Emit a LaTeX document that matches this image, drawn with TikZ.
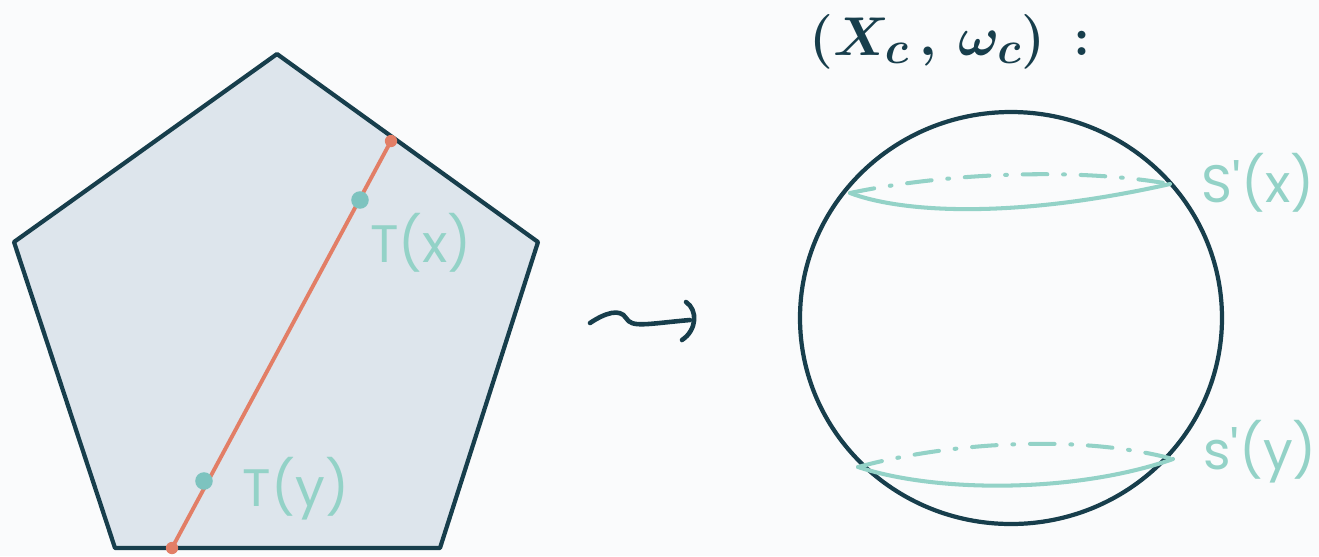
\documentclass[tikz,border=0pt]{standalone}
\usepackage{fontspec}
\setmainfont{Poppins}
\usetikzlibrary{arrows.meta, positioning}

\definecolor{ink}{HTML}{173E4C}
\definecolor{paper}{HTML}{DDE5EC}
\definecolor{mint}{HTML}{93D2C7}
\definecolor{fibre}{HTML}{7DC3BF}
\definecolor{salmon}{HTML}{E27E66}
\definecolor{sheet}{HTML}{FAFBFC}

\begin{document}
\begin{tikzpicture}[
        x=0.02cm, y=-0.02cm,
        outline/.style={draw=ink, line width=2.4pt, line join=round},
        seg/.style={draw=salmon, line width=2.2pt, line cap=round},
        fib/.style={circle, fill=fibre, inner sep=0pt, minimum size=10pt},
        tip/.style={circle, fill=salmon, inner sep=0pt, minimum size=7pt},
        lbl/.style={text=mint, font=\fontsize{30}{34}\selectfont, inner sep=0pt},
        lat/.style={draw=mint, line width=2.3pt, line cap=round},
        hidden/.style={lat, dash pattern=on 14pt off 9pt on 1pt off 9pt}
    ]

    \fill[sheet] (0,0) rectangle (1319,556);
    \useasboundingbox (0,0) rectangle (1319,556);

    % polytope
    \coordinate (top) at (277,54);
    \coordinate (right) at (538,242);
    \coordinate (br) at (440,548);
    \coordinate (bl) at (115,548);
    \coordinate (left) at (14,242);
    \filldraw[outline, fill=paper] (top) -- (right) -- (br) -- (bl) -- (left) -- cycle;

    \node[tip] (a) at (391,141) {};
    \node[tip] (b) at (172,548) {};
    \draw[seg] (a.center) -- (b.center);
    \node[fib] (x) at (360,200) {};
    \node[fib] (y) at (204,481) {};
    \node[lbl] (Tx) at (421,243) {T(x)};
    \node[lbl] (Ty) at (296,489) {T(y)};

    % leadsto
    \coordinate (w0) at (590,323);
    \coordinate (w1) at (690,320);
    \draw[ink, line width=2.6pt, line cap=round]
        (w0) .. controls (605,313) and (620,308) .. (626,318)
             .. controls (632,328) and (645,324) .. (w1);
    \draw[ink, line width=2.6pt, line cap=round]
        (686,302) .. controls (698,310) and (697,330) .. (682,340);

    % sphere
    \coordinate (c) at (1011,318);
    \node[text=ink, font=\fontsize{24.88}{30}\selectfont\boldmath, inner sep=0pt, scale=1.25] (title) at (950,42) {$(X_c\,,\,\omega_c)\,:$};
    \draw[outline] (c) ellipse [x radius=211, y radius=206];

    \coordinate (u1) at (850,193);
    \coordinate (u2) at (1170,184);
    \coordinate (d1) at (858,467);
    \coordinate (d2) at (1173,459);
    \draw[hidden] (u1) .. controls (950,172) and (1080,168) .. (u2);
    \draw[lat] (u1) .. controls (900,212) and (1010,220) .. (u2);
    \draw[hidden] (d1) .. controls (950,442) and (1080,434) .. (d2);
    \draw[lat] (d1) .. controls (940,494) and (1080,492) .. (d2);

    \node[lbl] (Sx) at (1258,183) {S\textquotesingle(x)};
    \node[lbl] (Sy) at (1260,452) {s\textquotesingle(y)};
\end{tikzpicture}
\end{document}
